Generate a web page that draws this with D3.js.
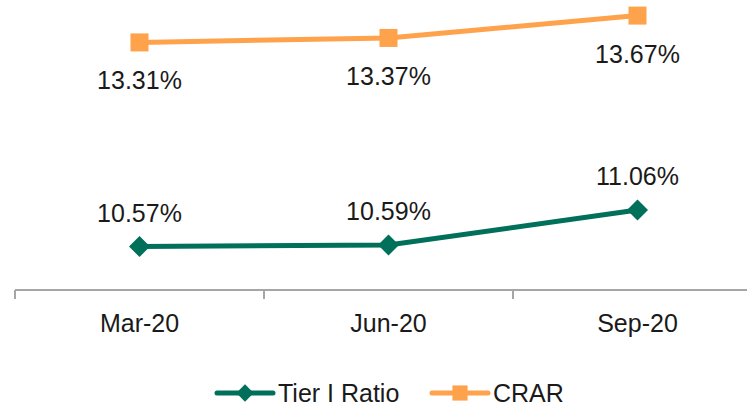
<!DOCTYPE html>
<html>
<head>
<meta charset="utf-8">
<script src="https://cdn.jsdelivr.net/npm/d3@7"></script>
<style>
  body { margin: 0; background: #fff; }
  text { font-family: "Liberation Sans", Arial, sans-serif; fill: #1a1a1a; }
</style>
</head>
<body>
<div id="viz"></div>
<script>
var categories = ["Mar-20", "Jun-20", "Sep-20"];
var tierValues = [10.57, 10.59, 11.06];
var crarValues = [13.31, 13.37, 13.67];
var seriesNames = ["Tier I Ratio", "CRAR"];

var width = 747, height = 407;
var green = "#00705a", orange = "#ffa24c";

var svg = d3.select("#viz")
    .append("svg")
    .attr("width", width)
    .attr("height", height);

var x = d3.scaleBand()
    .domain(categories)
    .range([15, 762]);

var y = d3.scaleLinear()
    .domain([10, 14])
    .range([289, -9]);

var axisY = 290;

// axis line + boundary ticks
svg.append("line")
    .attr("x1", x.range()[0]).attr("x2", width)
    .attr("y1", axisY).attr("y2", axisY)
    .attr("stroke", "#a6a6a6").attr("stroke-width", 2);

var edges = categories.map(function (c) { return x(c); }).concat([x.range()[1]]);
svg.selectAll(".tick-edge")
    .data(edges)
    .enter().append("line")
    .attr("x1", function (d) { return d; })
    .attr("x2", function (d) { return d; })
    .attr("y1", axisY).attr("y2", axisY + 9)
    .attr("stroke", "#a6a6a6").attr("stroke-width", 2);

// category labels through the axis
var xAxis = svg.append("g")
    .attr("transform", "translate(0," + axisY + ")")
    .call(d3.axisBottom(x).tickSize(0).tickPadding(24));
xAxis.select(".domain").remove();
xAxis.selectAll("text")
    .attr("font-size", 25)
    .attr("font-family", "Liberation Sans, Arial, sans-serif")
    .attr("fill", "#1a1a1a");

var cx = function (d, i) { return x(categories[i]) + x.bandwidth() / 2; };

var line = d3.line()
    .x(function (d, i) { return cx(d, i); })
    .y(function (d) { return y(d); });

// CRAR
svg.append("path")
    .datum(crarValues)
    .attr("d", line)
    .attr("fill", "none")
    .attr("stroke", orange)
    .attr("stroke-width", 5);

svg.selectAll(".crar-pt")
    .data(crarValues)
    .enter().append("rect")
    .attr("x", function (d, i) { return cx(d, i) - 9; })
    .attr("y", function (d) { return y(d) - 9; })
    .attr("width", 18).attr("height", 18)
    .attr("fill", orange);

svg.selectAll(".crar-lbl")
    .data(crarValues)
    .enter().append("text")
    .attr("x", function (d, i) { return cx(d, i); })
    .attr("y", function (d) { return y(d) + 47; })
    .attr("text-anchor", "middle")
    .attr("font-size", 25)
    .text(function (d) { return d.toFixed(2) + "%"; });

// Tier I
svg.append("path")
    .datum(tierValues)
    .attr("d", line)
    .attr("fill", "none")
    .attr("stroke", green)
    .attr("stroke-width", 5);

var diamond = d3.symbol().type(d3.symbolSquare).size(220);
svg.selectAll(".tier-pt")
    .data(tierValues)
    .enter().append("path")
    .attr("d", diamond)
    .attr("transform", function (d, i) {
        return "translate(" + cx(d, i) + "," + y(d) + ") rotate(45)";
    })
    .attr("fill", green);

svg.selectAll(".tier-lbl")
    .data(tierValues)
    .enter().append("text")
    .attr("x", function (d, i) { return cx(d, i); })
    .attr("y", function (d) { return y(d) - 25; })
    .attr("text-anchor", "middle")
    .attr("font-size", 25)
    .text(function (d) { return d.toFixed(2) + "%"; });

// legend
var legend = [
    {name: seriesNames[0], color: green, x: 217, shape: "diamond"},
    {name: seriesNames[1], color: orange, x: 432, shape: "square"}
];
var ly = 393;
var lg = svg.selectAll(".legend")
    .data(legend)
    .enter().append("g")
    .attr("transform", function (d) { return "translate(" + d.x + "," + ly + ")"; });

lg.append("line")
    .attr("x1", 0).attr("x2", 56)
    .attr("y1", 0).attr("y2", 0)
    .attr("stroke", function (d) { return d.color; })
    .attr("stroke-width", 5)
    .attr("stroke-linecap", "round");

lg.append("path")
    .attr("d", function (d) {
        return d3.symbol().type(d3.symbolSquare).size(d.shape === "diamond" ? 150 : 230)();
    })
    .attr("transform", function (d) {
        return "translate(28,0)" + (d.shape === "diamond" ? " rotate(45)" : "");
    })
    .attr("fill", function (d) { return d.color; });

lg.append("text")
    .attr("x", 61)
    .attr("y", 9)
    .attr("font-size", 25)
    .text(function (d) { return d.name; });
</script>
</body>
</html>
